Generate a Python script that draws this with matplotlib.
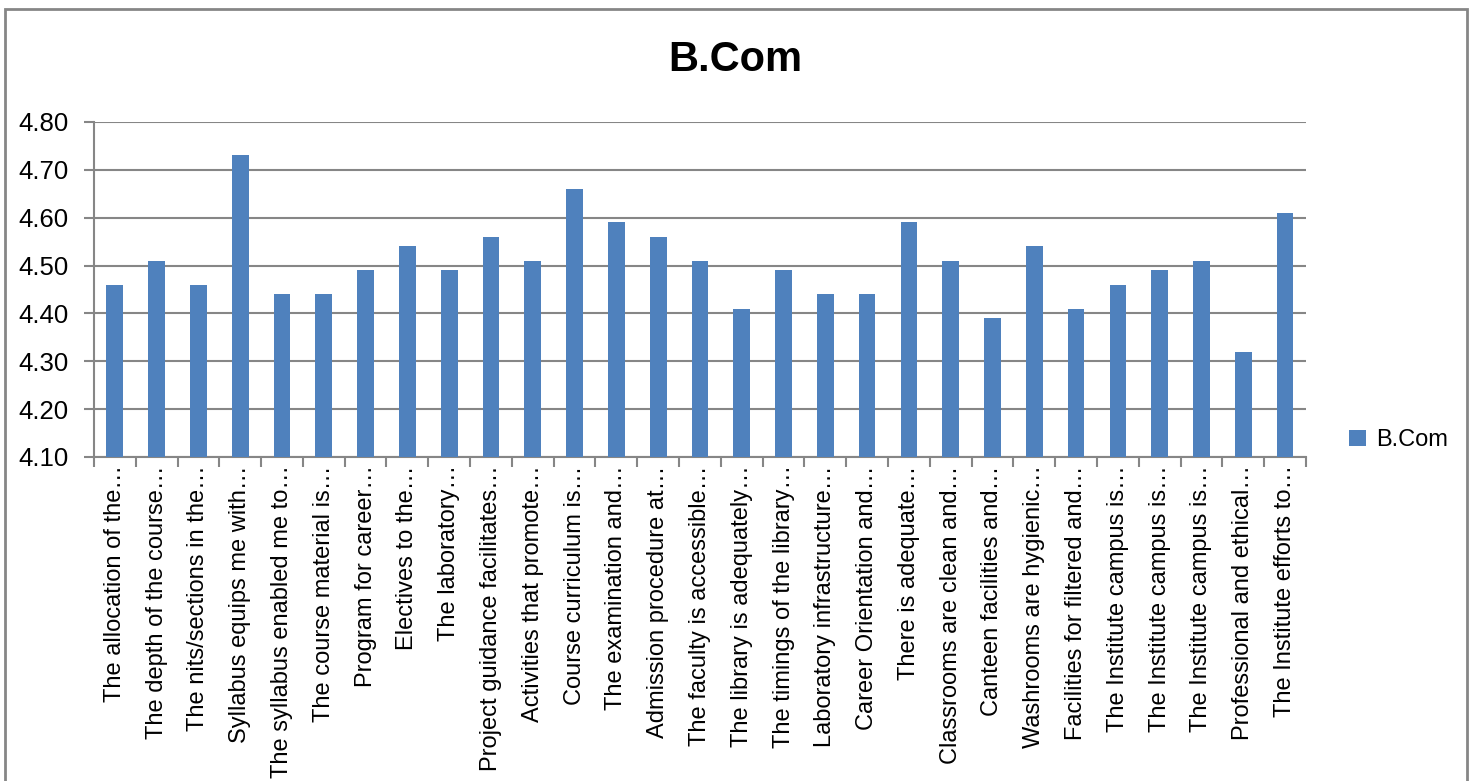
import numpy as np
import matplotlib.pyplot as plt
from matplotlib.patches import Rectangle

# Survey items (truncated as in the original chart)
labels = [
    'The allocation of the…', 'The depth of the course…', 'The nits/sections in the…',
    'Syllabus equips me with…', 'The syllabus enabled me to…', 'The course material is…',
    'Program for career…', 'Electives to the…', 'The laboratory…',
    'Project guidance facilitates…', 'Activities that promote…', 'Course curriculum is…',
    'The examination and…', 'Admission procedure at…', 'The faculty is accessible…',
    'The library is adequately…', 'The timings of the library…', 'Laboratory infrastructure…',
    'Career Orientation and…', 'There is adequate…', 'Classrooms are clean and…',
    'Canteen facilities and…', 'Washrooms are hygienic…', 'Facilities for filtered and…',
    'The Institute campus is…', 'The Institute campus is…', 'The Institute campus is…',
    'Professional and ethical…', 'The Institute efforts to…',
]

# Mean scores
bcom = [4.46, 4.51, 4.46, 4.73, 4.44, 4.44, 4.49, 4.54, 4.49, 4.56,
        4.51, 4.66, 4.59, 4.56, 4.51, 4.41, 4.49, 4.44, 4.44, 4.59,
        4.51, 4.39, 4.54, 4.41, 4.46, 4.49, 4.51, 4.32, 4.61]

yticks = [4.10, 4.20, 4.30, 4.40, 4.50, 4.60, 4.70, 4.80]

plt.rcParams['font.family'] = ['Liberation Sans', 'DejaVu Sans']

fig = plt.figure(figsize=(14.7, 7.81), dpi=100)
ax = fig.add_axes([0.0639, 0.4149, 0.8245, 0.4289])

# outer chart frame
fig.patches.append(Rectangle((5 / 1470, -0.01), 1462 / 1470, 1 - 9 / 781 + 0.01,
                             transform=fig.transFigure, fill=False,
                             edgecolor='#868686', linewidth=2))

x = np.arange(len(labels))
ax.bar(x, bcom, width=0.4, color='#4F81BD', label='B.Com', zorder=3)

ax.set_xlim(-0.5, len(labels) - 0.5)
ax.set_ylim(4.10, 4.80)
ax.set_yticks(yticks)
ax.set_yticklabels([f'{v:.2f}' for v in yticks], fontsize=18.5)
ax.set_xticks(x)
ax.set_xticklabels(labels, rotation=90, fontsize=17, ha='center', va='top')
ax.set_xticks(np.arange(-0.5, len(labels)), minor=True)
ax.tick_params(axis='x', which='major', length=0, pad=6)
ax.tick_params(axis='x', which='minor', length=7, width=1.5, color='#868686')
ax.tick_params(axis='y', length=7, width=1.5, color='#868686', pad=11)

ax.grid(axis='y', color='#868686', linewidth=1.5, zorder=0)
for s in ['top', 'right']:
    ax.spines[s].set_visible(False)
for s in ['left', 'bottom']:
    ax.spines[s].set_color('#868686')
    ax.spines[s].set_linewidth(1.5)

fig.text(0.5, 1 - 60 / 781, 'B.Com', fontsize=30, fontweight='bold',
         ha='center', va='center')

ax.legend(loc='center left', bbox_to_anchor=(1.018, 0.05), frameon=False,
          fontsize=17, handlelength=0.7, handleheight=0.7, handletextpad=0.45)

plt.savefig('out.png', dpi=100)
